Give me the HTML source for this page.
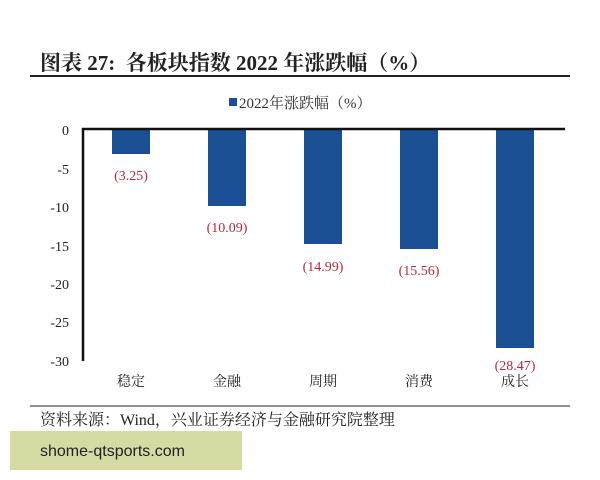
<!DOCTYPE html>
<html><head><meta charset="utf-8"><style>
body{margin:0;width:600px;height:480px;background:#fff;position:relative;overflow:hidden;font-family:"Liberation Serif","Noto Serif CJK SC",serif}
.a{position:absolute;white-space:nowrap}
</style></head><body>
<div class="a" style="left:40px;top:47px;font-size:21px;font-weight:bold;color:#222">图表 27:&nbsp; 各板块指数 2022 年涨跌幅（%）</div>
<div class="a" style="left:30px;top:75px;width:540px;height:2px;background:#222"></div>
<svg class="a" style="left:0;top:0" width="600" height="480">
<rect x="229" y="98" width="8" height="8" fill="#1b4f93"/>
<text x="239" y="108" font-size="15" fill="#333">2022年涨跌幅（%）</text>
<g font-size="14" fill="#222" text-anchor="end">
<text x="69" y="135">0</text><text x="69" y="174">-5</text><text x="69" y="212">-10</text>
<text x="69" y="251">-15</text><text x="69" y="289">-20</text><text x="69" y="327">-25</text><text x="69" y="366">-30</text></g>
<g fill="#1b4f93">
<rect x="112" y="129" width="38" height="25"/>
<rect x="208" y="129" width="38" height="77"/>
<rect x="304" y="129" width="38" height="115"/>
<rect x="400" y="129" width="38" height="120"/>
<rect x="496" y="129" width="38" height="219"/>
</g>
<line x1="82" y1="129" x2="565" y2="129" stroke="#111" stroke-width="2.5"/>
<line x1="83" y1="128" x2="83" y2="361" stroke="#111" stroke-width="2.5"/>
<g font-size="14" fill="#b5283a" text-anchor="middle">
<text x="131" y="180">(3.25)</text><text x="227" y="232">(10.09)</text><text x="323" y="271">(14.99)</text>
<text x="419" y="275">(15.56)</text><text x="515" y="370">(28.47)</text></g>
<g font-size="14" fill="#222" text-anchor="middle" font-family="Noto Serif CJK SC, serif">
<text x="131" y="386">稳定</text><text x="227" y="386">金融</text><text x="323" y="386">周期</text>
<text x="419" y="386">消费</text><text x="515" y="386">成长</text></g>
<line x1="30" y1="406" x2="570" y2="406" stroke="#222" stroke-width="1"/>
<text x="40" y="425" font-size="16" fill="#222">资料来源：Wind，兴业证券经济与金融研究院整理</text>
<rect x="10" y="431" width="232" height="39" fill="#d6dba3"/>
<text x="40" y="456" font-size="16" fill="#222" font-family="Liberation Sans, sans-serif">shome-qtsports.com</text>
</svg>
</body></html>
